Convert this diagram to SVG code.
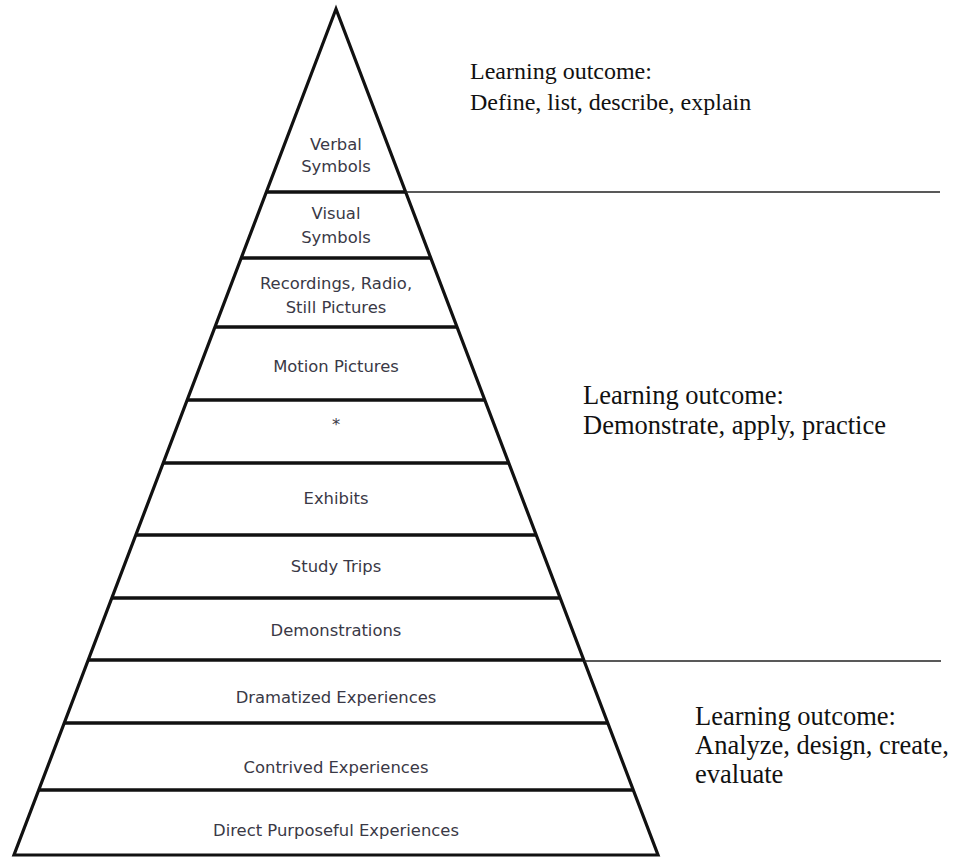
<svg xmlns="http://www.w3.org/2000/svg" width="954" height="857" viewBox="0 0 954 857">
  <style>
    .edge { fill: none; stroke: #111; stroke-width: 3.2; stroke-linejoin: miter; }
    .band { stroke: #111; stroke-width: 3.4; }
    .rule { stroke: #222; stroke-width: 1.4; }
    .lbl { font-family: "DejaVu Sans", "Liberation Sans", sans-serif; font-size: 16.4px; fill: #3a3946; text-anchor: middle; }
    .note { font-family: "Liberation Serif", "Times New Roman", serif; font-size: 26.5px; fill: #111; }
    .note.small { font-size: 24px; }
  </style>
  <rect width="954" height="857" fill="#fff"/>

  <!-- pyramid outline -->
  <g id="pyramid">
    <polygon class="edge" points="336,9 14,855 658,855"/>
  </g>

  <!-- tiers, top to bottom -->
  <g id="tier-verbal">
    <text class="lbl" x="336" y="150">Verbal</text>
    <text class="lbl" x="336" y="172">Symbols</text>
  </g>
  <g id="tier-visual">
    <line class="band" x1="266.7" y1="192" x2="405.3" y2="192"/>
    <text class="lbl" x="336" y="219">Visual</text>
    <text class="lbl" x="336" y="243">Symbols</text>
  </g>
  <g id="tier-recordings">
    <line class="band" x1="241.5" y1="258" x2="430.5" y2="258"/>
    <text class="lbl" x="336" y="289">Recordings, Radio,</text>
    <text class="lbl" x="336" y="313">Still Pictures</text>
  </g>
  <g id="tier-motion">
    <line class="band" x1="215.2" y1="327" x2="456.8" y2="327"/>
    <text class="lbl" x="336" y="372">Motion Pictures</text>
  </g>
  <g id="tier-star">
    <line class="band" x1="187.4" y1="400" x2="484.6" y2="400"/>
    <text class="lbl" x="336" y="430">*</text>
  </g>
  <g id="tier-exhibits">
    <line class="band" x1="163.4" y1="463" x2="508.6" y2="463"/>
    <text class="lbl" x="336" y="504">Exhibits</text>
  </g>
  <g id="tier-study-trips">
    <line class="band" x1="136" y1="535" x2="536" y2="535"/>
    <text class="lbl" x="336" y="572">Study Trips</text>
  </g>
  <g id="tier-demonstrations">
    <line class="band" x1="112" y1="598" x2="560" y2="598"/>
    <text class="lbl" x="336" y="636">Demonstrations</text>
  </g>
  <g id="tier-dramatized">
    <line class="band" x1="88.3" y1="660" x2="583.7" y2="660"/>
    <text class="lbl" x="336" y="703">Dramatized Experiences</text>
  </g>
  <g id="tier-contrived">
    <line class="band" x1="64.3" y1="723" x2="607.7" y2="723"/>
    <text class="lbl" x="336" y="773">Contrived Experiences</text>
  </g>
  <g id="tier-direct">
    <line class="band" x1="38.8" y1="790" x2="633.2" y2="790"/>
    <text class="lbl" x="336" y="836">Direct Purposeful Experiences</text>
  </g>

  <!-- dividers between outcome groups -->
  <g id="dividers">
    <line class="rule" x1="405" y1="192" x2="940" y2="192"/>
    <line class="rule" x1="584" y1="661" x2="941" y2="661"/>
  </g>

  <!-- outcome notes -->
  <g id="outcome-top">
    <text class="note small" x="470" y="79">Learning outcome:</text>
    <text class="note small" x="470" y="110">Define, list, describe, explain</text>
  </g>
  <g id="outcome-middle">
    <text class="note" x="583" y="404">Learning outcome:</text>
    <text class="note" x="583" y="434">Demonstrate, apply, practice</text>
  </g>
  <g id="outcome-bottom">
    <text class="note" x="695" y="725">Learning outcome:</text>
    <text class="note" x="695" y="754">Analyze, design, create,</text>
    <text class="note" x="695" y="783">evaluate</text>
  </g>
</svg>
